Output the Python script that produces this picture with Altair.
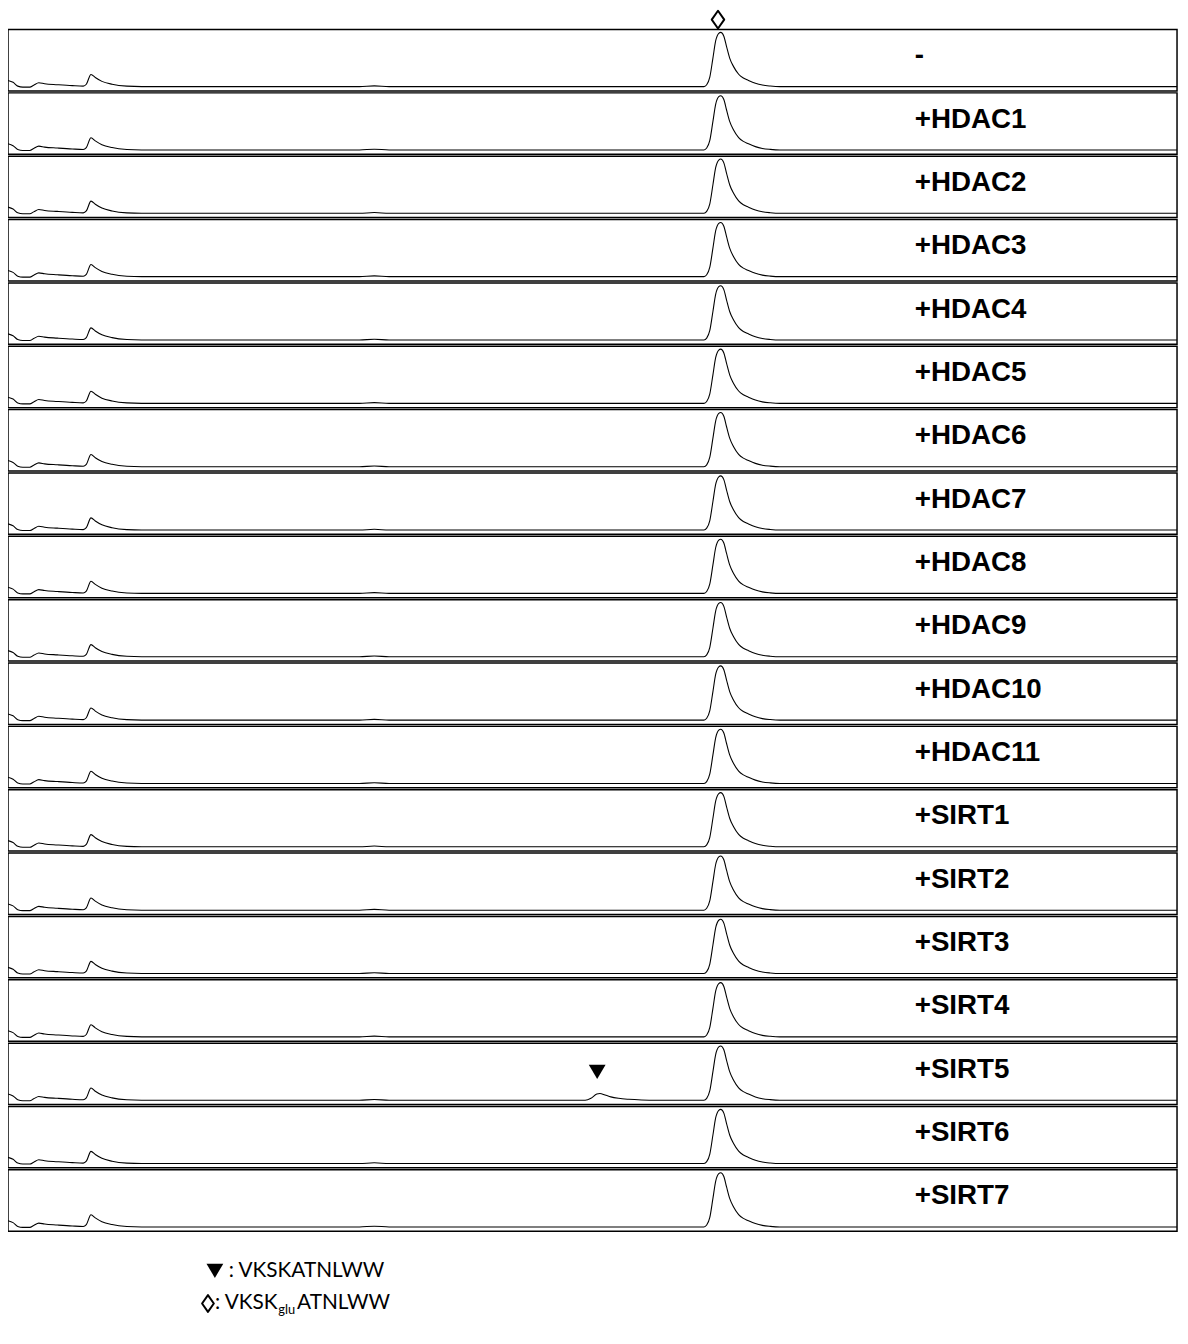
import altair as alt
import pandas as pd

# ---------------- data ----------------
labels = ["-", "+HDAC1", "+HDAC2", "+HDAC3", "+HDAC4", "+HDAC5", "+HDAC6",
          "+HDAC7", "+HDAC8", "+HDAC9", "+HDAC10", "+HDAC11", "+SIRT1",
          "+SIRT2", "+SIRT3", "+SIRT4", "+SIRT5", "+SIRT6", "+SIRT7"]

# retention time (min) and detector signal (a.u.) of the common trace
trace_t = [0.00, 0.13, 0.25, 0.38, 0.56, 0.66, 0.79, 0.94, 1.27, 1.65, 1.93,
           2.01, 2.13, 2.24, 2.41, 2.67, 3.05, 3.43, 9.02, 9.40, 9.78,
           17.86, 17.93, 18.01, 18.09, 18.16, 18.24, 18.29, 18.37, 18.44,
           18.52, 18.62, 18.75, 18.87, 19.00, 19.18, 19.36, 19.56, 19.81, 30.00]
trace_h = [6.5, 4.5, 0.5, -0.5, -0.5, 1.5, 4.0, 3.0, 2.0, 1.0, 0.5,
           2.5, 12.8, 9.5, 5.5, 2.5, 0.5, 0.0, 0.0, 0.8, 0.0,
           0.0, 2.0, 10.0, 30.0, 48.0, 56.0, 57.0, 53.0, 42.0,
           30.0, 21.0, 13.0, 9.0, 6.5, 3.5, 1.6, 0.6, 0.0, 0.0]

# extra product peak seen only with SIRT5
bump_panel = "+SIRT5"
bump_t = [14.81, 14.96, 15.11, 15.19, 15.32, 15.47, 15.67, 15.93, 16.26, 16.64]
bump_h = [0.0, 2.0, 6.5, 7.0, 5.5, 3.5, 2.0, 1.0, 0.3, 0.0]

substrate_t = [18.22]   # ◊ marker position
product_t = [15.12]     # ▼ marker position

legend_line1 = [": VKSKATNLWW"]
legend_line2_a = [": VKSK"]
legend_line2_sub = ["glu"]
legend_line2_b = ["ATNLWW"]

# ---------------- chart ----------------
W = 1181
H = 62
xs = alt.Scale(domain=[0, 30], nice=False, zero=False)
ys = alt.Scale(domain=[-4.5, 60], nice=False, zero=False)

# shapes drawn at twice the unit box so the symbol bounds stay tight
diamond = "M0,-2L1.4,0L0,2L-1.4,0Z"
tri = "M-2,-1.7L2,-1.7L0,1.7Z"
noframe = alt.ViewBackground(stroke="transparent", strokeWidth=0)

top = alt.Chart(pd.DataFrame({"t": substrate_t})).mark_point(
    shape=diamond, filled=False, stroke="black", strokeWidth=2.0,
    strokeJoin="round", size=81, opacity=1).encode(
    x=alt.X("t:Q", scale=xs, axis=None), y=alt.value(7)
).properties(width=W, height=15, view=noframe)

panels = [top]
for i, lab in enumerate(labels):
    t = list(trace_t)
    h = list(trace_h)
    if lab == bump_panel:
        pairs = sorted(zip(t + bump_t, h + bump_h))
        t = [p[0] for p in pairs]
        h = [p[1] for p in pairs]
    df = pd.DataFrame({"t": t, "h": h})
    line = alt.Chart(df).mark_line(color="black", strokeWidth=1.1,
                                   interpolate="monotone").encode(
        x=alt.X("t:Q", scale=xs, axis=None),
        y=alt.Y("h:Q", scale=ys, axis=None))
    txt = alt.Chart(pd.DataFrame({"label": [lab]})).mark_text(
        align="left", baseline="middle", font="Liberation Sans",
        fontWeight="bold", fontSize=28, color="black").encode(
        x=alt.value(916), y=alt.value(27), text="label:N")
    layers = [line, txt]
    if lab == bump_panel:
        layers.append(alt.Chart(pd.DataFrame({"t": product_t})).mark_point(
            shape=tri, filled=True, color="black", size=72, opacity=1).encode(
            x=alt.X("t:Q", scale=xs, axis=None), y=alt.value(29)))
    panels.append(alt.layer(*layers).properties(width=W, height=H))

legend_font = "Lato"
lf = 21
leg = alt.layer(
    alt.Chart(pd.DataFrame({"s": [0]})).mark_point(
        shape=tri, filled=True, color="black", size=72, opacity=1).encode(
        x=alt.value(209), y=alt.value(38)),
    alt.Chart(pd.DataFrame({"s": legend_line1})).mark_text(
        align="left", baseline="middle", font=legend_font, fontSize=lf,
        color="black").encode(x=alt.value(223), y=alt.value(38), text="s:N"),
    alt.Chart(pd.DataFrame({"s": [0]})).mark_point(
        shape=diamond, filled=False, stroke="black", strokeWidth=2.0,
        strokeJoin="round", size=72, opacity=1).encode(
        x=alt.value(202), y=alt.value(71)),
    alt.Chart(pd.DataFrame({"s": legend_line2_a})).mark_text(
        align="left", baseline="middle", font=legend_font, fontSize=lf,
        color="black").encode(x=alt.value(209), y=alt.value(71), text="s:N"),
    alt.Chart(pd.DataFrame({"s": legend_line2_sub})).mark_text(
        align="left", baseline="middle", font=legend_font, fontSize=13,
        color="black").encode(x=alt.value(273), y=alt.value(78), text="s:N"),
    alt.Chart(pd.DataFrame({"s": legend_line2_b})).mark_text(
        align="left", baseline="middle", font=legend_font, fontSize=lf,
        color="black").encode(x=alt.value(292), y=alt.value(71), text="s:N"),
).properties(width=W, height=80, view=noframe)

chart = alt.vconcat(*panels, leg, spacing=2, bounds="flush").properties(
    padding={"left": -3, "top": -5, "right": 0, "bottom": 0}
).configure_view(stroke="black", strokeWidth=1.5)

chart.save("out.html", embed_options={"renderer": "svg", "actions": False})
